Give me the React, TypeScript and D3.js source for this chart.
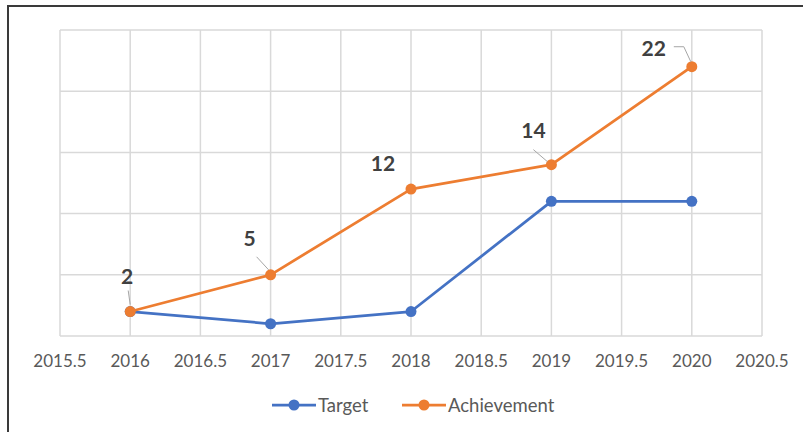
import React from "react";
import * as d3 from "d3";

const years = [2016, 2017, 2018, 2019, 2020];
const target = [2, 1, 2, 11, 11];
const achievement = [2, 5, 12, 14, 22];
const xTicks = [2015.5, 2016, 2016.5, 2017, 2017.5, 2018, 2018.5, 2019, 2019.5, 2020, 2020.5];
const yTicks = [0, 5, 10, 15, 20, 25];

// label layout offsets (dx, dy of label centre from point; leader path pts relative to point)
const labelLayout = [
  { dx: -3, dy: -36, leader: [[-2, -21], [0, -7]] },
  { dx: -21, dy: -37, leader: [[-14, -18], [-2, -5]] },
  { dx: -28, dy: -27, leader: null },
  { dx: -18, dy: -35, leader: [[-18, -15], [-4, -3]] },
  { dx: -38, dy: -19, leader: [[-18, -20], [-8, -20], [-1, -5]] },
];

const BLUE = "#4472C4";
const ORANGE = "#ED7D31";
const FONT = "Lato, 'Open Sans', sans-serif";

export default function App() {
  const W = 803, H = 432;
  const x = d3.scaleLinear().domain([2015.5, 2020.5]).range([60, 762]);
  const y = d3.scaleLinear().domain([0, 25]).range([336, 30]);
  const line = d3
    .line<number>()
    .x((_, i) => x(years[i]))
    .y((d) => y(d));

  const series = [
    { name: "Target", values: target, color: BLUE },
    { name: "Achievement", values: achievement, color: ORANGE },
  ];

  return (
    <svg
      width={W}
      height={H}
      style={{ position: "absolute", left: 0, top: 0, background: "#fff" }}
      fontFamily={FONT}
    >
      <rect x={0} y={0} width={W} height={H} fill="#fff" />
      {/* outer border */}
      <path d={`M8,${H + 5} L8,6 L${W + 5},6`} fill="none" stroke="#3a3a3a" strokeWidth={2} />

      {/* gridlines */}
      {yTicks.map((t) => (
        <line key={"h" + t} x1={x(2015.5)} x2={x(2020.5)} y1={y(t)} y2={y(t)} stroke="#d9d9d9" strokeWidth={1.5} />
      ))}
      {xTicks.map((t) => (
        <line key={"v" + t} x1={x(t)} x2={x(t)} y1={y(0)} y2={y(25)} stroke="#d9d9d9" strokeWidth={1.5} />
      ))}

      {/* x tick labels */}
      {xTicks.map((t) => (
        <text key={"t" + t} x={x(t)} y={360} textAnchor="middle" dominantBaseline="central" fontSize={17} fill="#595959">
          {String(t)}
        </text>
      ))}

      {/* series */}
      {series.map((s) => (
        <g key={s.name}>
          <path d={line(s.values) || ""} fill="none" stroke={s.color} strokeWidth={2.75} strokeLinejoin="round" />
          {s.values.map((v, i) => (
            <circle key={i} cx={x(years[i])} cy={y(v)} r={5.5} fill={s.color} />
          ))}
        </g>
      ))}

      {/* data labels for achievement */}
      {achievement.map((v, i) => {
        const px = x(years[i]);
        const py = y(v);
        const L = labelLayout[i];
        return (
          <g key={"l" + i}>
            {L.leader && (
              <polyline
                points={L.leader.map((p) => `${px + p[0]},${py + p[1]}`).join(" ")}
                fill="none"
                stroke="#a6a6a6"
                strokeWidth={1}
              />
            )}
            <text
              x={px + L.dx}
              y={py + L.dy}
              textAnchor="middle"
              dominantBaseline="central"
              fontSize={21}
              fontWeight="bold"
              fill="#404040"
            >
              {v}
            </text>
          </g>
        );
      })}

      {/* legend */}
      <g>
        <line x1={272} x2={316} y1={405} y2={405} stroke={BLUE} strokeWidth={2.75} />
        <circle cx={294} cy={405} r={5.5} fill={BLUE} />
        <text x={318} y={405} dominantBaseline="central" fontSize={18.5} fill="#595959">Target</text>
        <line x1={402} x2={446} y1={405} y2={405} stroke={ORANGE} strokeWidth={2.75} />
        <circle cx={424} cy={405} r={5.5} fill={ORANGE} />
        <text x={448} y={405} dominantBaseline="central" fontSize={18.5} fill="#595959">Achievement</text>
      </g>
    </svg>
  );
}
